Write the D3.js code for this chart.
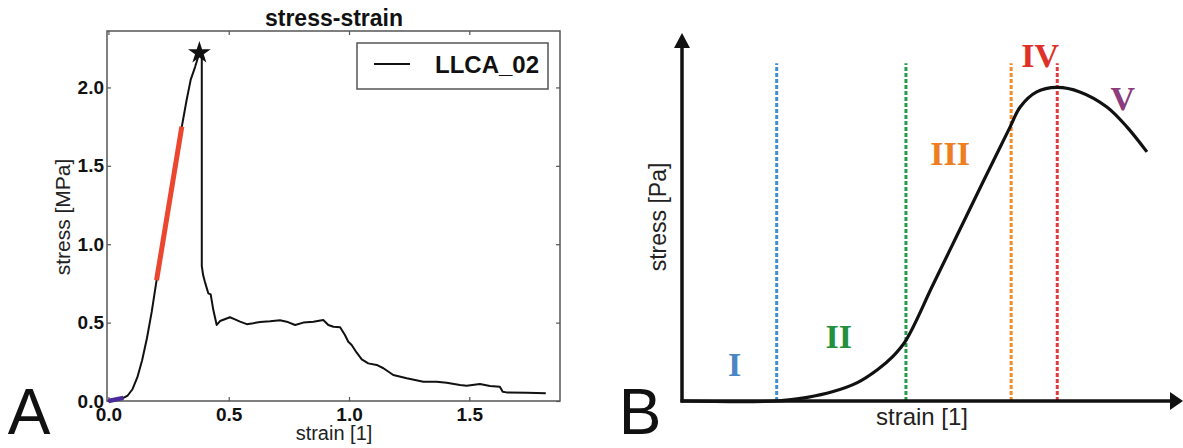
<!DOCTYPE html>
<html>
<head>
<meta charset="utf-8">
<script src="https://cdn.jsdelivr.net/npm/d3@7"></script>
<style>
  body { margin: 0; background: #fff; }
</style>
</head>
<body>
<div id="graph"></div>
<script>
// ---- panel A data ----
const strainA = [0, 0.03, 0.062, 0.08, 0.10, 0.12, 0.14, 0.16, 0.18, 0.20, 0.25, 0.305, 0.325, 0.342, 0.36, 0.378,
  0.388, 0.388, 0.394, 0.401, 0.415, 0.425, 0.436, 0.45, 0.464, 0.505, 0.526, 0.547, 0.575, 0.602, 0.63, 0.672, 0.713,
  0.741, 0.776, 0.81, 0.852, 0.893, 0.914, 0.935, 0.963, 0.983, 0.997, 1.011, 1.032, 1.053, 1.08, 1.115, 1.143, 1.184,
  1.24, 1.309, 1.364, 1.406, 1.461, 1.489, 1.544, 1.586, 1.627, 1.639, 1.655, 1.739, 1.818];
const stressA = [0, 0.005, 0.02, 0.035, 0.075, 0.15, 0.26, 0.40, 0.57, 0.77, 1.25, 1.75, 1.92, 2.05, 2.13, 2.22,
  2.2, 0.86, 0.80, 0.76, 0.687, 0.68, 0.58, 0.485, 0.51, 0.534, 0.521, 0.506, 0.49, 0.496, 0.504, 0.508, 0.515,
  0.506, 0.485, 0.5, 0.506, 0.517, 0.485, 0.474, 0.47, 0.421, 0.378, 0.357, 0.308, 0.266, 0.24, 0.23, 0.209, 0.166,
  0.145, 0.123, 0.123, 0.117, 0.102, 0.098, 0.108, 0.096, 0.091, 0.059, 0.055, 0.053, 0.049];
const toeStrain = [0, 0.062];
const toeStress = [0, 0.02];
const fitStrain = [0.20, 0.305];
const fitStress = [0.77, 1.75];
const peakStrain = 0.378;
const peakStress = 2.22;
const xTicksA = [0, 0.5, 1.0, 1.5];
const yTicksA = [0, 0.5, 1.0, 1.5, 2.0];
const seriesName = "LLCA_02";

// ---- panel B data (schematic, arbitrary units) ----
const strainB = [0, 0.189, 0.25, 0.30, 0.35, 0.39, 0.42, 0.447, 0.50, 0.55, 0.60, 0.655, 0.675, 0.708, 0.748, 0.794, 0.848, 0.888, 0.928];
const stressB = [0, 0, 0.01, 0.025, 0.05, 0.085, 0.12, 0.165, 0.313, 0.453, 0.593, 0.745, 0.799, 0.840, 0.852, 0.840, 0.799, 0.745, 0.677];
const phaseBounds = [0.189, 0.447, 0.657, 0.749];
const boundColors = ["#3f8fd2", "#2a9a4a", "#f28c28", "#e23b3b"];
const phaseNames = ["I", "II", "III", "IV", "V"];
const phaseColors = ["#4a86c4", "#23903e", "#ef7d22", "#e0302a", "#8c3b7d"];
const phaseX = [0.105, 0.313, 0.535, 0.715, 0.880];
const phaseY = [0.068, 0.144, 0.640, 0.907, 0.790];

const sans = '"Liberation Sans", Arial, sans-serif';
const serif = '"Liberation Serif", "Times New Roman", serif';

const svgWidth = 1183;
const svgHeight = 448;

const svg = d3.select('#graph')
  .append('svg')
  .attr('width', svgWidth)
  .attr('height', svgHeight)
  .style('display', 'block')
  .style('font-family', sans);

svg.append('rect').attr('width', svgWidth).attr('height', svgHeight).attr('fill', '#fff');

// ================= panel A =================
const x = d3.scaleLinear().domain([-0.006, 1.877]).range([107, 560]);
const y = d3.scaleLinear().domain([0, 2.36]).range([401, 31]);

const gA = svg.append('g');

// ticks on all four sides, pointing inward
const fmt = d3.format('.1f');
gA.append('g')
  .attr('transform', `translate(0,${y.range()[0]})`)
  .call(d3.axisBottom(x).tickValues(xTicksA).tickFormat(fmt).tickSizeInner(-4).tickSizeOuter(0).tickPadding(7));
gA.append('g')
  .attr('transform', `translate(${x.range()[0]},0)`)
  .call(d3.axisLeft(y).tickValues(yTicksA).tickFormat(fmt).tickSizeInner(-4).tickSizeOuter(0).tickPadding(3));
gA.append('g')
  .attr('transform', `translate(0,${y.range()[1]})`)
  .call(d3.axisTop(x).tickValues(xTicksA).tickFormat('').tickSizeInner(-4).tickSizeOuter(0));
gA.append('g')
  .attr('transform', `translate(${x.range()[1]},0)`)
  .call(d3.axisRight(y).tickValues(yTicksA).tickFormat('').tickSizeInner(-4).tickSizeOuter(0));

gA.selectAll('.domain').remove();
gA.selectAll('.tick line').attr('stroke', '#555').attr('stroke-width', 1.2);
gA.selectAll('.tick text')
  .attr('fill', '#111')
  .style('font-size', '19px')
  .style('font-weight', 'bold')
  .style('font-family', sans);

// frame
gA.append('rect')
  .attr('x', x.range()[0]).attr('y', y.range()[1])
  .attr('width', x.range()[1] - x.range()[0])
  .attr('height', y.range()[0] - y.range()[1])
  .attr('fill', 'none').attr('stroke', '#555').attr('stroke-width', 1.5);

const lineA = d3.line()
  .x(d => x(d[0]))
  .y(d => y(d[1]));

gA.append('path')
  .datum(strainA.map((s, i) => [s, stressA[i]]))
  .attr('d', lineA)
  .attr('fill', 'none').attr('stroke', '#111').attr('stroke-width', 2)
  .attr('stroke-linejoin', 'round');

gA.append('path')
  .datum(toeStrain.map((s, i) => [s, toeStress[i]]))
  .attr('d', lineA)
  .attr('fill', 'none').attr('stroke', '#4b2a9c').attr('stroke-width', 4.5);

gA.append('path')
  .datum(fitStrain.map((s, i) => [s, fitStress[i]]))
  .attr('d', lineA)
  .attr('fill', 'none').attr('stroke', '#ea4630').attr('stroke-width', 5);

gA.append('path')
  .attr('transform', `translate(${x(peakStrain)},${y(peakStress)})`)
  .attr('d', d3.symbol(d3.symbolStar, 160)())
  .attr('fill', '#111');

// title & labels
gA.append('text')
  .attr('x', 334).attr('y', 26)
  .attr('text-anchor', 'middle')
  .style('font-size', '23px').style('font-weight', 'bold').attr('fill', '#111')
  .text('stress-strain');

gA.append('text')
  .attr('x', 334).attr('y', 440)
  .attr('text-anchor', 'middle')
  .style('font-size', '20px').attr('fill', '#222')
  .text('strain [1]');

gA.append('text')
  .attr('transform', 'translate(70,217) rotate(-90)')
  .attr('text-anchor', 'middle')
  .style('font-size', '21px').attr('fill', '#222')
  .text('stress [MPa]');

// legend
const leg = gA.append('g').attr('transform', 'translate(357,43)');
leg.append('rect').attr('width', 191).attr('height', 46)
  .attr('fill', '#fff').attr('stroke', '#555').attr('stroke-width', 1.5);
leg.append('line').attr('x1', 17).attr('x2', 53).attr('y1', 21).attr('y2', 21)
  .attr('stroke', '#111').attr('stroke-width', 2);
leg.append('text').attr('x', 78).attr('y', 30)
  .style('font-size', '24px').style('font-weight', 'bold').attr('fill', '#111')
  .text(seriesName);

svg.append('text')
  .attr('x', 29).attr('y', 434)
  .attr('text-anchor', 'middle')
  .style('font-size', '64px').attr('fill', '#111')
  .text('A');

// ================= panel B =================
const xB = d3.scaleLinear().domain([0, 1]).range([682, 1183]);
const yB = d3.scaleLinear().domain([0, 1]).range([401, 33]);
const gB = svg.append('g');

// dotted phase boundaries
gB.selectAll('.bound')
  .data(phaseBounds)
  .enter()
  .append('line')
  .attr('class', 'bound')
  .attr('x1', d => xB(d)).attr('x2', d => xB(d))
  .attr('y1', yB(0)).attr('y2', yB(0.918))
  .attr('stroke', (d, i) => boundColors[i])
  .attr('stroke-width', 3)
  .attr('stroke-dasharray', '4,2');

// axes with arrow heads
gB.append('line')
  .attr('x1', xB(0)).attr('x2', xB(0))
  .attr('y1', yB(0) + 1.5).attr('y2', yB(1) + 10)
  .attr('stroke', '#111').attr('stroke-width', 3.5);
gB.append('line')
  .attr('x1', xB(0) - 1.5).attr('x2', xB(1) - 10)
  .attr('y1', yB(0)).attr('y2', yB(0))
  .attr('stroke', '#111').attr('stroke-width', 3.5);
gB.append('path')
  .attr('d', `M${xB(0)},${yB(1)} L${xB(0) - 8},${yB(1) + 15} L${xB(0) + 8},${yB(1) + 15} Z`)
  .attr('fill', '#111');
gB.append('path')
  .attr('d', `M${xB(1)},${yB(0)} L${xB(1) - 13},${yB(0) - 9} L${xB(1) - 13},${yB(0) + 9} Z`)
  .attr('fill', '#111');

const lineB = d3.line()
  .x(d => xB(d[0]))
  .y(d => yB(d[1]))
  .curve(d3.curveCatmullRom.alpha(0.5));

gB.append('path')
  .datum(strainB.map((s, i) => [s, stressB[i]]))
  .attr('d', lineB)
  .attr('fill', 'none').attr('stroke', '#111').attr('stroke-width', 3.2);

gB.selectAll('.phase')
  .data(phaseNames)
  .enter()
  .append('text')
  .attr('class', 'phase')
  .attr('x', (d, i) => xB(phaseX[i]))
  .attr('y', (d, i) => yB(phaseY[i]))
  .attr('text-anchor', 'middle')
  .style('font-family', serif)
  .style('font-weight', 'bold')
  .style('font-size', '34px')
  .attr('fill', (d, i) => phaseColors[i])
  .text(d => d);

gB.append('text')
  .attr('x', 922).attr('y', 425)
  .attr('text-anchor', 'middle')
  .style('font-size', '24px').attr('fill', '#222')
  .text('strain [1]');

gB.append('text')
  .attr('transform', 'translate(666,217) rotate(-90)')
  .attr('text-anchor', 'middle')
  .style('font-size', '23px').attr('fill', '#222')
  .text('stress [Pa]');

svg.append('text')
  .attr('x', 640).attr('y', 434)
  .attr('text-anchor', 'middle')
  .style('font-size', '64px').attr('fill', '#111')
  .text('B');
</script>
</body>
</html>
